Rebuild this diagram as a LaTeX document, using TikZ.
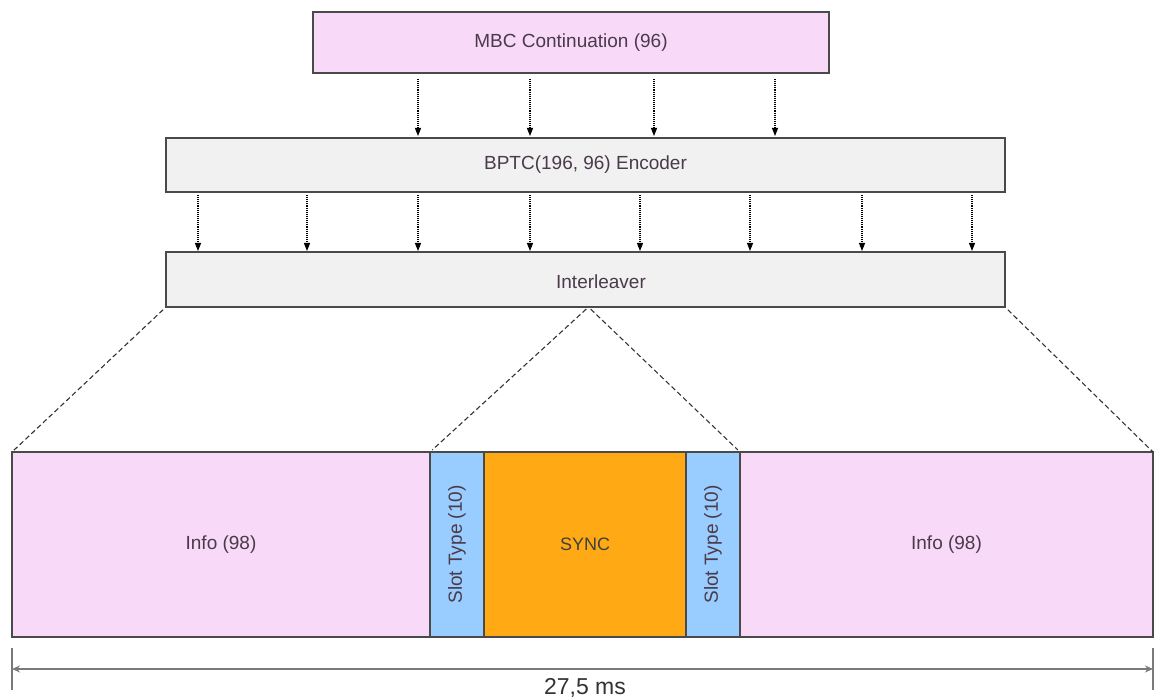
\documentclass[tikz,border=0pt]{standalone}
\usepackage{fontspec}
\setmainfont{Liberation Sans}
\usetikzlibrary{arrows.meta,calc}
\definecolor{pinkf}{HTML}{F8DAF8}
\definecolor{grayf}{HTML}{F1F1F1}
\definecolor{bluef}{HTML}{99CCFF}
\definecolor{orangef}{HTML}{FFAA14}
\definecolor{boxline}{HTML}{4A4A4A}
\definecolor{txt}{HTML}{4A3A4A}
\definecolor{dimc}{HTML}{7A7A7A}
\begin{document}
\begin{tikzpicture}[x=1pt,y=-1pt,
  box/.style={draw=boxline, line width=1.3pt, rectangle, inner sep=0pt, outer sep=0pt, text=txt, font=\fontsize{19}{22}\selectfont},
  lbl/.style={text=txt, font=\fontsize{19}{22}\selectfont},
  arr/.style={densely dotted, line width=1.1pt, -{Triangle[width=6pt,length=8pt]}},
  dline/.style={dashed, dash pattern=on 5pt off 3pt, line width=1.1pt, black!80},
  dim/.style={dimc, line width=1.5pt}]
\useasboundingbox (0,0) rectangle (1155,700);

\node[box, fill=pinkf, minimum width=516pt, minimum height=61pt] (mbc) at (571,42.5) {MBC Continuation (96)};
\node[box, fill=grayf, minimum width=839pt, minimum height=54pt] (bptc) at (585.5,165) {BPTC(196, 96) Encoder};
\node[box, fill=grayf, minimum width=839pt, minimum height=55pt] (intl) at (585.5,279.5) {};
\node[lbl] (intlt) at (601,282) {Interleaver};

\foreach \x in {418,530,654,775}
  \draw[arr, shorten <=6pt, shorten >=2pt] (\x,0 |- mbc.south) -- (\x,0 |- bptc.north);
\foreach \x in {198,307,418,530,640,750,862,972}
  \draw[arr, shorten <=3pt, shorten >=1pt] (\x,0 |- bptc.south) -- (\x,0 |- intl.north);

\node[box, fill=pinkf, minimum width=418pt, minimum height=185pt] (info1) at (221,544.5) {Info (98)};
\node[box, fill=bluef, minimum width=54pt, minimum height=185pt] (slot1) at (457,544.5) {};
\node[box, fill=orangef, minimum width=202pt, minimum height=185pt, text=black!75, font=\fontsize{18}{21}\selectfont] (sync) at (585,544.5) {SYNC};
\node[box, fill=bluef, minimum width=54pt, minimum height=185pt] (slot2) at (713,544.5) {};
\node[box, fill=pinkf, minimum width=413pt, minimum height=185pt] (info2) at (946.5,544.5) {Info (98)};
\node[lbl, rotate=90] (slot1t) at (slot1) {Slot Type (10)};
\node[lbl, rotate=90] (slot2t) at (slot2) {Slot Type (10)};

\draw[dline, shorten <=4pt] (intl.south west) -- (info1.north west);
\draw[dline, shorten <=3pt, shorten >=3pt] ([xshift=3pt]intl.south) -- (slot1.north west);
\draw[dline, shorten <=3pt, shorten >=3pt] ([xshift=3pt]intl.south) -- (slot2.north east);
\draw[dline, shorten <=4pt] (intl.south east) -- (info2.north east);

\coordinate (t1a) at ($(info1.south west)+(0,11)$);
\coordinate (t1b) at ($(info1.south west)+(0,53)$);
\coordinate (t2a) at ($(info2.south east)+(0,11)$);
\coordinate (t2b) at ($(info2.south east)+(0,53)$);
\draw[dim] (t1a) -- (t1b);
\draw[dim] (t2a) -- (t2b);
\draw[dim, {Stealth[width=7pt,length=8pt]}-{Stealth[width=7pt,length=8pt]}] ($(t1a)!0.5!(t1b)$) -- ($(t2a)!0.5!(t2b)$);
\node[text=black!80, font=\fontsize{23}{26}\selectfont] (dimt) at (585,688) {27,5 ms};
\end{tikzpicture}
\end{document}
